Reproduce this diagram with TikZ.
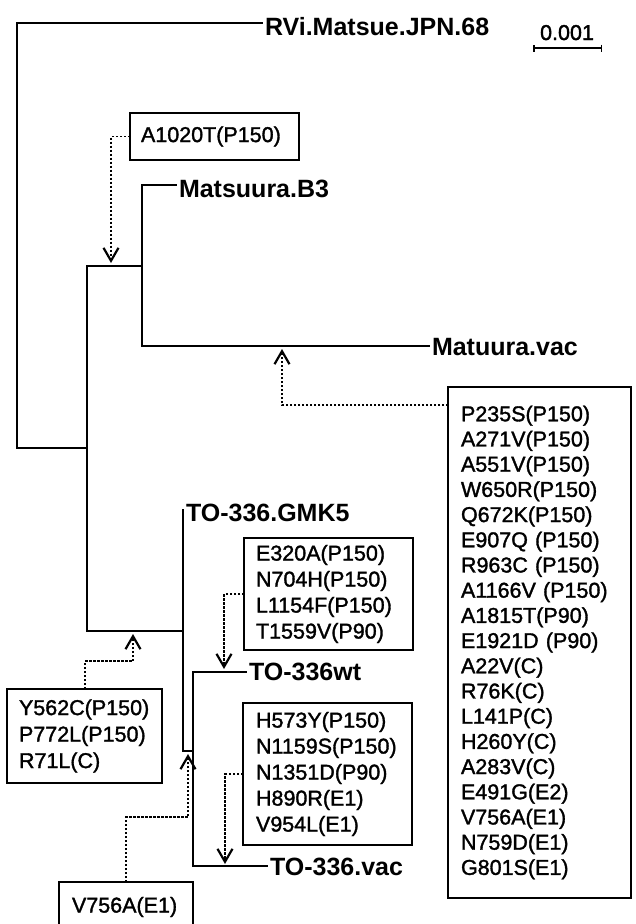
\documentclass[tikz,border=0pt]{standalone}
\usepackage{fontspec}
\setmainfont{Liberation Sans}
\newfontfamily\mutfont[FakeBold=1.5]{Liberation Sans}
\usetikzlibrary{arrows.meta}
\begin{document}
\begin{tikzpicture}[x=1pt,y=-1pt,
  tree/.style={line width=2pt, line cap=rect, line join=miter},
  taxon/.style={font=\fontsize{25}{25}\selectfont\bfseries, inner xsep=3pt, inner ysep=0pt, outer sep=0pt, anchor=base west},
  mutbox/.style={draw, line width=1.6pt, anchor=north west, align=left, font=\mutfont\fontsize{21.5}{26}\selectfont, inner ysep=0pt, outer sep=0pt},
  mutarrow/.style={line width=1.3pt, dash pattern=on 2.5pt off 1.5pt, -{Straight Barb[length=13pt,width=15pt,line width=2.2pt]}},
]
\useasboundingbox (0,0) rectangle (636,924);
\clip (0,0) rectangle (636,924);

% taxa
\node[taxon] (rvi) at (262,35) {RVi.Matsue.JPN.68};
\node[taxon] (b3) at (176,197) {Matsuura.B3};
\node[taxon] (vac) at (429,355) {Matuura.vac};
\node[taxon] (gmk) at (183,521) {TO-336.GMK5};
\node[taxon] (wt) at (246,680) {TO-336wt};
\node[taxon] (tovac) at (267,875) {TO-336.vac};

% junctions
\coordinate (r0) at (17,23);
\coordinate (r1) at (17,448);
\coordinate (a0) at (87,448);
\coordinate (a1) at (87,266);
\coordinate (a2) at (87,631);
\coordinate (m0) at (142,266);
\coordinate (m1) at (142,185);
\coordinate (m2) at (142,346);
\coordinate (t0) at (183,631);
\coordinate (t1) at (183,510);
\coordinate (t2) at (183,751);
\coordinate (w0) at (193,751);
\coordinate (w1) at (193,672);
\coordinate (w2) at (193,866);

\draw[tree] (rvi.west |- r0) -- (r0) -- (r1) -- (a0);
\draw[tree] (a1) -- (a2);
\draw[tree] (a1) -- (m0);
\draw[tree] (b3.west |- m1) -- (m1) -- (m2) -- (vac.west |- m2);
\draw[tree] (a2) -- (t0);
\draw[tree] (t1) -- (t2) -- (w0);
\draw[tree] (wt.west |- w1) -- (w1) -- (w2) -- (tovac.west |- w2);

% scale bar
\coordinate (s0) at (533,48);
\coordinate (s1) at (602,48);
\draw[line width=1.5pt, {Bar[width=7pt,line width=1.5pt]}-{Bar[width=7pt,line width=1.5pt]}] (s0) -- (s1);
\node[font=\mutfont\fontsize{21.5}{26}\selectfont, anchor=base, inner sep=0pt] (sc) at (567,40) {0.001};

% mutation boxes
\node[mutbox, text width=147pt, inner xsep=11pt, minimum height=47pt] (ka) at (130,113) {A1020T(P150)};
\node[mutbox, text width=157pt, inner xsep=13pt, minimum height=511pt, font=\mutfont\fontsize{21.5}{25.2}\selectfont] (kb) at (448,387) {P235S(P150)\\A271V(P150)\\A551V(P150)\\W650R(P150)\\Q672K(P150)\\E907Q (P150)\\R963C (P150)\\A1166V (P150)\\A1815T(P90)\\E1921D (P90)\\A22V(C)\\R76K(C)\\L141P(C)\\H260Y(C)\\A283V(C)\\E491G(E2)\\V756A(E1)\\N759D(E1)\\G801S(E1)};
\node[mutbox, text width=145pt, inner xsep=12pt, minimum height=112pt] (ke) at (244,538) {E320A(P150)\\N704H(P150)\\L1154F(P150)\\T1559V(P90)};
\node[mutbox, text width=143pt, inner xsep=13pt, minimum height=142pt] (kh) at (243,703) {H573Y(P150)\\N1159S(P150)\\N1351D(P90)\\H890R(E1)\\V954L(E1)};
\node[mutbox, text width=131pt, inner xsep=12pt, minimum height=94pt, font=\mutfont\fontsize{21.5}{26.5}\selectfont] (ky) at (7,689) {Y562C(P150)\\P772L(P150)\\R71L(C)};
\node[mutbox, text width=108pt, inner xsep=13pt, minimum height=50pt] (kv) at (59,882) {V756A(E1)};

% arrow targets
\coordinate (pa) at (111,263);
\coordinate (pb) at (282,349);
\coordinate (pc) at (133,634);
\coordinate (pe) at (224,669);
\coordinate (ph) at (225,864);
\coordinate (pv) at (188,754);

\draw[mutarrow] (ka.west) -| (pa);
\draw[mutarrow] ([yshift=-18pt]kb.north west) -| (pb);
\draw[mutarrow] ([xshift=78pt]ky.north west) -- ++(0,-28) -| (pc);
\draw[mutarrow] (ke.west) -| (pe);
\draw[mutarrow] (kh.west) -| (ph);
\draw[mutarrow] ([xshift=67pt]kv.north west) -- ++(0,-65) -| (pv);
\end{tikzpicture}
\end{document}
